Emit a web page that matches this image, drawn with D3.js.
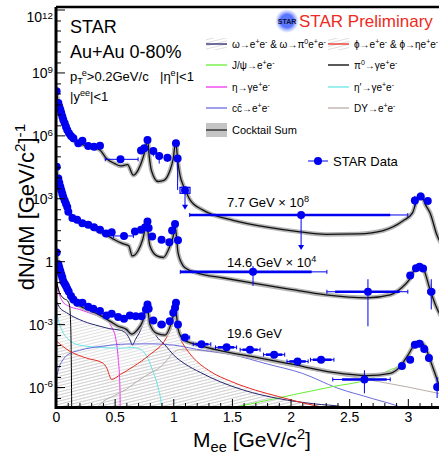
<!DOCTYPE html>
<html>
<head>
<meta charset="utf-8">
<title>STAR dielectron Au+Au</title>
<script src="https://d3js.org/d3.v7.min.js"></script>
<style>
  body { margin: 0; background: #fff; }
  svg { display: block; font-family: "Liberation Sans", Arial, Helvetica, sans-serif; }
</style>
</head>
<body>
<svg width="439" height="455"></svg>
<script>
// ---------- data (dN/dM as plotted, offsets x10^8 / x10^4 already applied) ----------
const xTickLabels = [0, 0.5, 1, 1.5, 2, 2.5, 3];
const yTickLabels = [1e-6, 1e-3, 1, 1e3, 1e6, 1e9, 1e12];

// STAR data points: [M, dN/dM, {xl,xh: bin, sl,sh: sys bar, yl,yh: error, lim: upper-limit arrow, box}]
const data77 = [
  [0.005,1.26e8],[0.02,3.5e7],[0.028,2.4e7],[0.037,1.66e7],[0.045,1.15e7],[0.054,7.9e6],
  [0.062,5.5e6],[0.074,3.8e6],[0.085,2.6e6],[0.096,1.8e6],[0.111,1.26e6],[0.128,9.3e5],
  [0.148,7.2e5],[0.19,4.2e5],[0.225,5.6e5],[0.275,3.1e5],[0.324,2.9e5],[0.375,3.2e5],
  [0.55,7.2e4,{xl:0.42,xh:0.70}],
  [0.725,1.9e5],[0.753,2.4e5],[0.78,6.0e5],[0.83,1.8e5,{yl:1.0e5,yh:2.6e5}],
  [0.88,1.05e5,{yl:4.5e4,yh:1.6e5}],[0.95,8.5e4,{yl:5.5e4,yh:1.2e5}],[1.023,4.2e5],
  [1.037,7.9e4,{yl:2.5e3,yh:1.2e5}],
  [1.1,2.4e3,{box:true,lim:2.8e2}],
  [2.09,1.6e2,{xl:1.14,xh:3.0,sl:1.14,sh:2.85,lim:3.4}],
  [3.06,7.9e2,{yl:4e2,yh:1.3e3}],[3.11,1.2e3],[3.17,7.4e2,{xl:3.15,xh:3.19}]
];
const data146 = [
  [0.006,3.2e4],[0.02,8.7e3],[0.028,5.5e3],[0.037,3.5e3],[0.045,2.4e3],[0.054,1.66e3],
  [0.062,1.15e3],[0.074,7.9e2],[0.085,5.5e2],[0.096,3.8e2],[0.105,2.3e2],[0.14,1.15e2],
  [0.18,95],[0.225,65],[0.275,54],[0.324,42],[0.375,32],[0.426,21],[0.475,24],
  [0.58,16,{xl:0.49,xh:0.66}],[0.673,26],[0.725,32],[0.76,42],[0.78,78],[0.79,38],
  [0.82,15],[0.9,10.5],[0.966,7.9],[0.99,29],[1.015,60],[1.04,10],
  [1.68,0.31,{xl:1.06,xh:2.31,sl:1.06,sh:2.18,yl:0.066,yh:0.59}],
  [2.66,0.035,{xl:2.31,xh:3.0,sl:2.38,sh:2.93,yl:7.9e-4,yh:0.138}],
  [3.02,0.21],[3.07,0.46],[3.1,0.54],[3.13,0.45],
  [3.2,0.035,{xl:3.17,xh:3.23,yl:5e-3,yh:0.138}]
];
const data196 = [
  [0.006,2.6],[0.02,0.72],[0.028,0.5],[0.037,0.34],[0.045,0.24],[0.054,0.166],[0.062,0.112],
  [0.074,0.085],[0.085,0.066],[0.096,0.049],[0.108,0.036],[0.128,0.022],[0.148,0.015],
  [0.182,0.0105],[0.225,0.0105],[0.275,6.8e-3],[0.318,5.4e-3],[0.375,4.2e-3],[0.43,2.6e-3],
  [0.475,3.1e-3],[0.53,2.2e-3],[0.58,1.8e-3],[0.63,2.6e-3],[0.68,2.4e-3],[0.73,2.4e-3],
  [0.767,5e-3],[0.78,8.7e-3],[0.79,5.4e-3],[0.83,1.48e-3],[0.9,9.5e-4,{xl:0.87,xh:0.93}],
  [0.97,1.38e-3],[1.0,3.5e-3],[1.015,6e-3],[1.023,0.0105],[1.04,9.5e-4],
  [1.1,2.3e-4,{xl:1.07,xh:1.14}],
  [1.24,1.1e-4,{xl:1.17,xh:1.32,sl:1.19,sh:1.30}],
  [1.455,7.8e-5,{xl:1.36,xh:1.54,sl:1.38,sh:1.52}],
  [1.654,6e-5,{xl:1.57,xh:1.74,sl:1.59,sh:1.72}],
  [1.86,3.5e-5,{xl:1.77,xh:1.95,sl:1.79,sh:1.93}],
  [2.06,1.66e-5,{xl:1.97,xh:2.15,sl:1.99,sh:2.13}],
  [2.26,2e-5,{xl:2.17,xh:2.37,sl:2.19,sh:2.35}],
  [2.63,2.3e-6,{xl:2.36,xh:2.85,sl:2.44,sh:2.82,yl:5e-7,yh:6.3e-6}],
  [2.95,1.02e-5],[3.02,2e-5],[3.06,1.05e-4],[3.1,1.15e-4],[3.14,6.5e-5],[3.18,2.4e-5],
  [3.25,1.0e-6,{yl:3e-7,yh:3e-6}]
];

// cocktail sums
const cock77 = [
  [0.003,1.26e8],[0.02,3.2e7],[0.05,8.9e6],[0.08,2.8e6],[0.1,1.58e6],[0.12,8.9e5],[0.15,5.6e5],
  [0.2,4.0e5],[0.3,2.8e5],[0.375,2.0e5],[0.43,7.9e4],[0.5,4.5e4],[0.55,3.5e4],[0.61,4.0e4],
  [0.66,1.26e4],[0.7,2.2e4],[0.74,7.9e4],[0.765,2.5e5],[0.78,7.2e5],[0.795,1e5],[0.815,2e4],
  [0.87,6.3e3],[0.92,7.1e3],[0.97,2e4],[1.0,7.9e4],[1.02,5e5],[1.04,5e4],[1.057,1.26e4],
  [1.085,4.1e3],[1.11,2e3],[1.14,8.9e2],[1.25,2.8e2],[1.3,2e2],[1.51,89],[1.8,42],[2.08,25],
  [2.3,19],[2.58,20],[2.79,29],[2.96,85],[3.04,2e2],[3.07,6.3e2],[3.11,1.58e3],[3.15,5e2],
  [3.19,2e2],[3.25,16.6],[3.3,5]
];
const cock146 = [
  [0.003,2.5e4],[0.02,7.1e3],[0.05,1.4e3],[0.08,5e2],[0.105,2.5e2],[0.14,1.2e2],[0.2,71],
  [0.3,42],[0.375,25],[0.43,17.8],[0.5,10.5],[0.56,7.2],[0.62,5.4],[0.65,1.78],[0.7,3.16],
  [0.74,11.2],[0.775,63],[0.79,12.6],[0.8,5.6],[0.86,1.78],[0.915,1.5],[0.97,5],[1.0,15.8],
  [1.015,50],[1.03,10],[1.04,2.6],[1.085,0.6],[1.11,0.45],[1.2,0.28],[1.43,0.158],
  [1.68,0.089],[2.0,0.045],[2.3,0.025],[2.65,0.018],[2.85,0.025],[2.95,0.056],[3.01,0.126],
  [3.07,0.5],[3.1,0.6],[3.14,0.35],[3.18,0.066],[3.24,7.2e-3],[3.3,1.6e-3]
];
const cock196 = [
  [0.003,2.2],[0.02,0.56],[0.05,0.14],[0.08,0.056],[0.1,0.033],[0.12,0.018],[0.15,0.0112],
  [0.2,7.6e-3],[0.233,6e-3],[0.318,3.8e-3],[0.4,2.2e-3],[0.46,1.38e-3],[0.53,7.9e-4],
  [0.6,5.6e-4],[0.645,3.3e-4],[0.69,5e-4],[0.74,1.41e-3],[0.775,7.6e-3],[0.79,2.5e-3],
  [0.8,1e-3],[0.86,3.6e-4],[0.93,3e-4],[0.98,1e-3],[1.0,2.5e-3],[1.018,7.9e-3],[1.03,2e-3],
  [1.04,6.3e-4],[1.085,1.82e-4],[1.2,1.05e-4],[1.43,5e-5],[1.71,2.6e-5],[2.0,1.26e-5],
  [2.36,5e-6],[2.65,3.5e-6],[2.85,4.5e-6],[2.93,8.9e-6],[3.0,3.2e-5],[3.07,1.26e-4],
  [3.1,1.41e-4],[3.15,7.9e-5],[3.19,2e-5],[3.26,1.58e-6],[3.3,4e-7]
];

// 19.6 GeV cocktail components
const omega196 = [
  [0.002,0.0126],[0.03,6.3e-3],[0.09,3.5e-3],[0.233,1.38e-3],[0.375,7.9e-4],[0.46,6e-4],
  [0.545,5.2e-4],[0.6,3.5e-4],[0.635,1.58e-4],[0.65,1e-4],[0.68,2e-4],[0.72,5e-4],
  [0.75,1.58e-3],[0.773,7.2e-3],[0.79,2e-3],[0.83,5e-4],[0.94,8.7e-5],[1.0,3.5e-5],
  [1.1,1.26e-5],[1.23,5e-6],[1.4,1.78e-6],[1.6,7.1e-7],[1.9,2.8e-7],[2.2,1.58e-7],
  [2.45,1.12e-7],[2.55,7.9e-8]
];
const phi196 = [
  [0.002,1.58e-4],[0.12,5e-5],[0.26,2.4e-5],[0.4,1.38e-5],[0.43,8.7e-6],[0.475,2.3e-6],
  [0.55,4e-6],[0.66,9.5e-6],[0.8,3.5e-5],[0.94,2.2e-4],[0.99,8.9e-4],[1.008,2.5e-3],
  [1.019,0.0105],[1.03,2e-3],[1.045,5e-4],[1.065,1.78e-4],[1.09,1e-4],[1.17,2.5e-5],
  [1.3,6.3e-6],[1.5,1.78e-6],[1.7,7.1e-7],[1.9,3.5e-7],[2.1,1.78e-7],[2.35,8.9e-8]
];
const jpsi196 = [
  [1.5,1e-7],[2.08,5e-7],[2.36,1.05e-6],[2.65,2.2e-6],[2.85,6.6e-6],[2.96,1.38e-5],
  [3.02,4e-5],[3.05,8.7e-5],[3.1,1.35e-4],[3.15,7.9e-5],[3.19,2e-5],[3.27,1.05e-6],[3.3,4e-7]
];
const pi0196 = [
  [0.002,0.126],[0.03,0.032],[0.06,0.0178],[0.1,0.0126],[0.115,7.9e-3],[0.125,1e-3],
  [0.13,3.2e-5],[0.134,6.3e-8]
];
const eta196 = [
  [0.002,0.126],[0.03,0.025],[0.06,0.0112],[0.1,7.6e-3],[0.2,5e-3],[0.3,3.2e-3],[0.4,1.9e-3],
  [0.45,1.2e-3],[0.48,6.3e-4],[0.51,2e-4],[0.53,2.5e-5],[0.545,1e-6],[0.548,3.2e-8]
];
const etap196 = [
  [0.002,4e-3],[0.03,1e-3],[0.06,4e-4],[0.1,2e-4],[0.2,1e-4],[0.4,7.6e-5],[0.55,7.1e-5],
  [0.65,7.6e-5],[0.72,6.3e-5],[0.78,2.5e-5],[0.83,5e-6],[0.87,1e-6],[0.9,1.26e-7],[0.91,3.2e-8]
];
const ccbar196 = [
  [0.002,2.5e-6],[0.03,1e-5],[0.06,2e-5],[0.1,3.5e-5],[0.2,5.6e-5],[0.4,8.9e-5],[0.6,1.12e-4],
  [0.8,1.15e-4],[1.0,1e-4],[1.2,6.3e-5],[1.5,3.5e-5],[1.8,1.26e-5],[2.1,4.5e-6],[2.4,8.9e-7],
  [2.7,2.8e-7],[2.95,1e-7],[3.05,5e-8]
];
const dy196 = [
  [0.33,7.9e-8],[0.4,2e-7],[0.5,4e-7],[0.6,7.9e-7],[0.7,2e-6],[0.8,4.5e-6],[0.9,1e-5],
  [0.95,2e-5],[1.0,4.2e-5],[1.05,6e-5],[1.2,5.6e-5],[1.5,3.5e-5],[2.0,1e-5],[2.5,3.2e-6],
  [3.0,1e-6],[3.3,4.5e-7]
];

const legendLabels = [
  "ω→e^{+}e^{-} & ω→π^{0}e^{+}e^{-}", "ϕ→e^{+}e^{-} & ϕ→ηe^{+}e^{-}",
  "J/ψ→e^{+}e^{-}", "π^{0}→γe^{+}e^{-}",
  "η→γe^{+}e^{-}", "η′→γe^{+}e^{-}",
  "cc̄→e^{+}e^{-}", "DY→e^{+}e^{-}",
  "Cocktail Sum"
];

// ---------- setup ----------
const svg = d3.select("svg");
const x = d3.scaleLinear().domain([0, 3.3]).range([56, 443]);
const y = d3.scaleLog().domain([1e-7, 1.32e12]).range([408, 7]);
const BLUE = "#0000f0";
const colors = {
  omega: "#24246e", phi: "#e82a1f", jpsi: "#66ee33", pi0: "#000000",
  eta: "#ee33ee", etap: "#66e6e6", ccbar: "#6b6bdd", dy: "#b9ada8"
};

// tiny ROOT-like latex: ^{..} superscript, _{..} subscript; base = initial baseline shift
function rich(sel, str, fs, up, base) {
  const parts = str.split(/(\^\{[^}]*\}|_\{[^}]*\})/).filter(s => s.length);
  let off = -(base || 0);
  parts.forEach(p => {
    let target = 0, txt = p, size = fs;
    if (p.startsWith("^{")) { target = -(up || 0.4) * fs; txt = p.slice(2, -1); size = fs * 0.7; }
    else if (p.startsWith("_{")) { target = 0.25 * fs; txt = p.slice(2, -1); size = fs * 0.7; }
    sel.append("tspan").attr("dy", target - off).attr("font-size", size).text(txt);
    off = target;
  });
  return sel;
}

const defs = svg.append("defs");
defs.append("clipPath").attr("id", "plotclip")
  .append("rect").attr("x", 56).attr("y", 7).attr("width", 390).attr("height", 401);
const pat = defs.append("pattern").attr("id", "hatch")
  .attr("patternUnits", "userSpaceOnUse").attr("width", 8).attr("height", 3)
  .attr("patternTransform", "rotate(-14)");
pat.append("line").attr("x1", 0).attr("x2", 8).attr("y1", 1.5).attr("y2", 1.5)
  .attr("stroke", "#c9c9c9").attr("stroke-width", 0.6);
const glow = defs.append("radialGradient").attr("id", "glow");
glow.append("stop").attr("offset", "0%").attr("stop-color", "#5a7dff");
glow.append("stop").attr("offset", "55%").attr("stop-color", "#3d5cff").attr("stop-opacity", 0.85);
glow.append("stop").attr("offset", "100%").attr("stop-color", "#7d95ff").attr("stop-opacity", 0);

const line = d3.line().x(d => x(d[0])).y(d => y(d[1])).curve(d3.curveMonotoneX);
const area = d3.area().x(d => x(d[0])).y0(408).y1(d => y(d[1])).curve(d3.curveMonotoneX);

const plot = svg.append("g").attr("clip-path", "url(#plotclip)");

// hatched omega / phi contributions
[omega196, phi196].forEach(s => {
  plot.append("path").attr("d", area(s)).attr("fill", "url(#hatch)");
});

// components
[[eta196, "eta"], [etap196, "etap"], [dy196, "dy"], [ccbar196, "ccbar"], [jpsi196, "jpsi"],
 [pi0196, "pi0"], [omega196, "omega"], [phi196, "phi"]].forEach(([s, k]) => {
  plot.append("path").attr("d", line(s)).attr("fill", "none")
    .attr("stroke", colors[k]).attr("stroke-width", 1);
});

// cocktail sums with grey band
[cock77, cock146, cock196].forEach(s => {
  plot.append("path").attr("d", line(s)).attr("fill", "none")
    .attr("stroke", "#b4b4b4").attr("stroke-width", 4.5).attr("stroke-linejoin", "round");
  plot.append("path").attr("d", line(s)).attr("fill", "none")
    .attr("stroke", "#111").attr("stroke-width", 1.3);
});

// data
function drawData(arr) {
  const g = plot.append("g");
  arr.forEach(d => {
    const px = x(d[0]), py = y(d[1]), o = d[2] || {};
    if (o.sl !== undefined) {
      g.append("line").attr("x1", x(o.sl)).attr("x2", x(o.sh)).attr("y1", py).attr("y2", py)
        .attr("stroke", BLUE).attr("stroke-width", 2.6);
    }
    if (o.xl !== undefined) {
      g.append("line").attr("x1", x(o.xl)).attr("x2", x(o.xh)).attr("y1", py).attr("y2", py)
        .attr("stroke", BLUE).attr("stroke-width", 1);
      [o.xl, o.xh].forEach(v => g.append("line").attr("x1", x(v)).attr("x2", x(v))
        .attr("y1", py - 2).attr("y2", py + 2).attr("stroke", BLUE).attr("stroke-width", 1));
    }
    if (o.yl !== undefined) {
      g.append("line").attr("x1", px).attr("x2", px).attr("y1", y(o.yl)).attr("y2", y(o.yh))
        .attr("stroke", BLUE).attr("stroke-width", 1);
    }
    if (o.lim !== undefined) {
      const ye = y(o.lim);
      g.append("line").attr("x1", px).attr("x2", px).attr("y1", py).attr("y2", ye - 4)
        .attr("stroke", BLUE).attr("stroke-width", 1);
      g.append("path").attr("d", `M${px - 3},${ye - 5}L${px + 3},${ye - 5}L${px},${ye}Z`)
        .attr("fill", BLUE);
    }
    if (o.box) {
      g.append("rect").attr("x", px - 5).attr("y", py - 3).attr("width", 10).attr("height", 6)
        .attr("fill", "none").attr("stroke", BLUE).attr("stroke-width", 1.2);
    }
    g.append("circle").attr("cx", px).attr("cy", py).attr("r", 4).attr("fill", BLUE);
  });
}
drawData(data77);
drawData(data146);
drawData(data196);

// ---------- axes ----------
const yTicks = [];
for (let n = -7; n <= 12; n++) { yTicks.push(Math.pow(10, n)); if (n < 12) yTicks.push(3 * Math.pow(10, n)); }
const yAx = svg.append("g").attr("transform", "translate(56,0)")
  .call(d3.axisRight(y).tickValues(yTicks).tickFormat("").tickSize(5));
yAx.select(".domain").remove();
yAx.selectAll(".tick line").attr("stroke", "#000")
  .attr("x2", d => yTickLabels.some(v => Math.abs(Math.log10(v) - Math.log10(d)) < 1e-6) ? 9 : 5);

const yLab = svg.append("g").attr("transform", "translate(53,0)")
  .call(d3.axisLeft(y).tickValues(yTickLabels).tickSize(0).tickPadding(0).tickFormat(""));
yLab.select(".domain").remove();
yLab.attr("font-family", null).attr("font-size", 14);
yLab.selectAll(".tick text").each(function(d) {
  const e = Math.round(Math.log10(d));
  const t = d3.select(this).attr("fill", "#000").attr("text-anchor", "end").attr("dy", null);
  if (e === 0) t.append("tspan").attr("dy", 5).attr("font-size", 14).text("1");
  else rich(t, "10^{" + e + "}", 14, e === 12 ? 0.22 : 0.36, e === 12 ? 12 : 5);
});

const xTicks = d3.range(0, 33).map(i => i / 10);
const xAx = svg.append("g").attr("transform", "translate(0,407)")
  .call(d3.axisTop(x).tickValues(xTicks).tickFormat("").tickSize(4));
xAx.select(".domain").remove();
xAx.selectAll(".tick line").attr("stroke", "#000")
  .attr("y2", d => Math.abs(d * 2 - Math.round(d * 2)) < 1e-6 ? -8 : -4);

const xLab = svg.append("g").attr("transform", "translate(0,409)")
  .call(d3.axisBottom(x).tickValues(xTickLabels).tickSize(0).tickPadding(3).tickFormat(d => d));
xLab.select(".domain").remove();
xLab.attr("font-family", null).attr("font-size", 14);
xLab.selectAll(".tick text").attr("fill", "#000");

// frame
svg.append("path").attr("d", "M56,7V407.5H445").attr("fill", "none")
  .attr("stroke", "#000").attr("stroke-width", 3);
svg.append("line").attr("x1", 56).attr("x2", 445).attr("y1", 7).attr("y2", 7)
  .attr("stroke", "#000").attr("stroke-width", 2.5);

// axis titles
rich(svg.append("text").attr("x", 193).attr("y", 447), "M_{ee} [GeV/c^{2}]", 21);
rich(svg.append("text").attr("transform", "translate(34,207) rotate(-90)")
  .attr("text-anchor", "middle"), "dN/dM [GeV/c^{2}]^{-1}", 22);

// ---------- annotations ----------
svg.append("text").attr("x", 70).attr("y", 33).attr("font-size", 18).text("STAR");
svg.append("text").attr("x", 70).attr("y", 58).attr("font-size", 18).text("Au+Au 0-80%");
rich(svg.append("text").attr("x", 70).attr("y", 81), "p_{T}^{e}>0.2GeV/c", 13);
rich(svg.append("text").attr("x", 160).attr("y", 81), "|η^{e}|<1", 13);
rich(svg.append("text").attr("x", 70).attr("y", 101), "|y^{ee}|<1", 13);

rich(svg.append("text").attr("x", 227).attr("y", 207), "7.7 GeV × 10^{8}", 13);
rich(svg.append("text").attr("x", 227).attr("y", 267), "14.6 GeV × 10^{4}", 13);
svg.append("text").attr("x", 227).attr("y", 338).attr("font-size", 13).text("19.6 GeV");

// STAR logo + preliminary
svg.append("circle").attr("cx", 287).attr("cy", 21).attr("r", 12).attr("fill", "url(#glow)");
svg.append("text").attr("x", 287).attr("y", 23.5).attr("text-anchor", "middle")
  .attr("font-size", 7).attr("font-weight", "bold").attr("fill", "#10103a").text("STAR");
svg.append("text").attr("x", 299).attr("y", 27).attr("font-size", 17)
  .attr("fill", "#ee2a22").text("STAR Preliminary");

// legend
const legKeys = ["omega", "phi", "jpsi", "pi0", "eta", "etap", "ccbar", "dy", "sum"];
const leg = svg.append("g");
legendLabels.forEach((lab, i) => {
  const col = i % 2, row = Math.floor(i / 2);
  const lx = col === 0 ? 206 : 328, ly = [44, 65, 87, 108, 130][row];
  const k = legKeys[i];
  if (k === "omega" || k === "phi") {
    leg.append("rect").attr("x", lx).attr("y", ly - 6).attr("width", 21).attr("height", 12)
      .attr("fill", "url(#hatch)");
  }
  if (k === "sum") {
    leg.append("rect").attr("x", lx).attr("y", ly - 7).attr("width", 21).attr("height", 14)
      .attr("fill", "#c4c4c4");
  }
  leg.append("line").attr("x1", lx).attr("x2", lx + 21).attr("y1", ly).attr("y2", ly)
    .attr("stroke", k === "sum" ? "#222" : colors[k]).attr("stroke-width", 1.3);
  rich(leg.append("text").attr("x", lx + 26).attr("y", ly + 4), lab, k === "sum" ? 11 : 10);
});

// STAR Data legend
svg.append("line").attr("x1", 308).attr("x2", 328).attr("y1", 161).attr("y2", 161)
  .attr("stroke", BLUE).attr("stroke-width", 1);
svg.append("circle").attr("cx", 318).attr("cy", 161).attr("r", 4).attr("fill", BLUE);
svg.append("text").attr("x", 333).attr("y", 166).attr("font-size", 13).text("STAR Data");
</script>
</body>
</html>
